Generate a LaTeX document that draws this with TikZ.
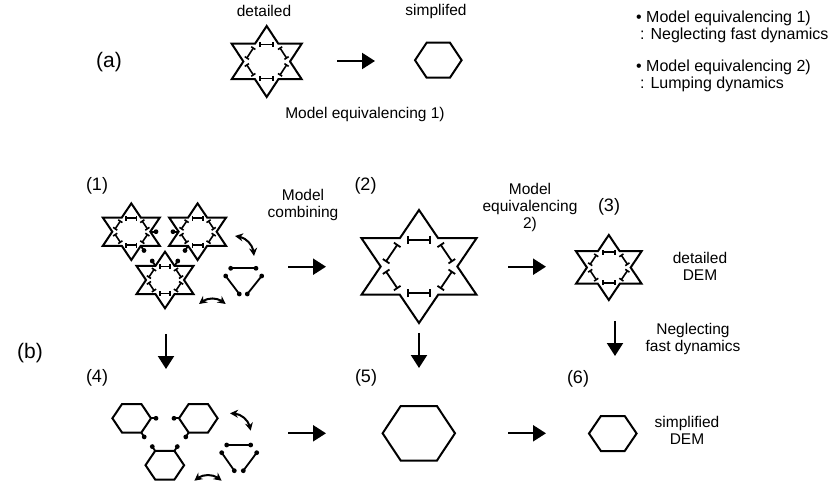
\documentclass[tikz,border=0pt]{standalone}
\usepackage{fontspec}
\setmainfont{Liberation Sans}
\usetikzlibrary{arrows.meta,bending}
\tikzset{
 starline/.style={line width=2pt, line join=miter},
 segL/.style={line width=1.8pt, {Bar[width=8pt]}-{Bar[width=8pt]}},
 segS/.style={line width=1.6pt, {Bar[width=5pt]}-{Bar[width=5pt]}},
 hexline/.style={line width=2pt, line join=miter},
 bigarrow/.style={line width=2.2pt, -{Triangle[length=13pt,width=16pt]}},
 curvarrow/.style={line width=2pt, {Stealth[length=8pt,width=8pt]}-{Stealth[length=8pt,width=8pt]}},
 dotseg/.style={line width=1.8pt},
 txt/.style={font=\fontsize{15.5}{17}\selectfont, align=center, inner sep=0pt},
 lst/.style={font=\fontsize{16}{17}\selectfont, inner sep=0pt, anchor=west},
 lbl/.style={font=\fontsize{18}{20}\selectfont, inner sep=0pt},
 part/.style={font=\fontsize{21}{24}\selectfont, inner sep=0pt},
}
\newcommand\mystar[5]{%
 \begin{scope}[shift={(#1,#2)},xscale=#3,yscale=#4]
  \draw[starline] (0,-1) -- (1/3,-1/2) -- (1,-1/2) -- (2/3,0) -- (1,1/2) -- (1/3,1/2) -- (0,1) -- (-1/3,1/2) -- (-1,1/2) -- (-2/3,0) -- (-1,-1/2) -- (-1/3,-1/2) -- cycle;
  \draw[#5] (-0.21,-0.475) -- (0.21,-0.475);
  \draw[#5] (0.37,-0.395) -- (0.58,-0.08);
  \draw[#5] (0.58,0.08) -- (0.37,0.395);
  \draw[#5] (0.21,0.475) -- (-0.21,0.475);
  \draw[#5] (-0.37,0.395) -- (-0.58,0.08);
  \draw[#5] (-0.58,-0.08) -- (-0.37,-0.395);
 \end{scope}}
\newcommand\myhex[4]{\draw[hexline,shift={(#1,#2)},xscale=#3,yscale=#4] (-1,0) -- (-0.5,-1) -- (0.5,-1) -- (1,0) -- (0.5,1) -- (-0.5,1) -- cycle;}
\newcommand\mydot[4]{\draw[dotseg] (#1,#2) -- (#3,#4); \fill (#3,#4) circle (2.4pt);}
\newcommand\mybell[4]{\draw[dotseg] (#1,#2) -- (#3,#4); \fill (#1,#2) circle (2.4pt); \fill (#3,#4) circle (2.4pt);}
\begin{document}
\begin{tikzpicture}[x=1pt,y=-1pt]
\useasboundingbox (0,0) rectangle (836,489);
% ---------- (a)
\node[part] (la) at (109,62) {(a)};
\node[txt] (tdet) at (264,11) {detailed};
\node[txt] (tsim) at (436,11) {simplifed};
\node[txt] (tme1) at (365,114) {Model equivalencing 1)};
\mystar{266.7}{61.5}{35}{35.5}{segS}
\myhex{438.3}{60.2}{23.3}{17.5}
\coordinate (a1) at (337,61);
\coordinate (a2) at (375,61);
\draw[bigarrow] (a1) -- (a2);
\node[lst] (l1) at (636,18) {• Model equivalencing 1)};
\node[lst] (l2) at (640,35) {: Neglecting fast dynamics};
\node[lst] (l3) at (636,67) {• Model equivalencing 2)};
\node[lst] (l4) at (640,84) {: Lumping dynamics};
% ---------- (b)
\node[part] (lb) at (30,353) {(b)};
\node[lbl] (n1) at (97,186) {(1)};
\node[lbl] (n2) at (365.5,186) {(2)};
\node[lbl] (n3) at (609,207) {(3)};
\node[lbl] (n4) at (97,378) {(4)};
\node[lbl] (n5) at (366,378) {(5)};
\node[lbl] (n6) at (578,379) {(6)};
% group (1)
\mystar{131.3}{231.7}{28.5}{28.3}{segS}
\mystar{197.6}{231.7}{28.5}{28.3}{segS}
\mystar{165}{280}{28.5}{28.3}{segS}
\mydot{150.3}{231.7}{156}{231.7}
\mydot{140.8}{245.85}{144}{250.5}
\mydot{178.6}{231.7}{173}{231.7}
\mydot{188.1}{245.85}{185}{250.5}
\mydot{155.5}{265.85}{152.2}{261}
\mydot{174.5}{265.85}{177.8}{261}
\mybell{230.7}{268.3}{256}{268.3}
\mybell{225.7}{276}{239.3}{294}
\mybell{261.7}{276}{247.3}{294}
\coordinate (c1a) at (235,236);
\coordinate (c1b) at (254,256);
\draw[curvarrow] (c1a) to[bend left=45] (c1b);
\coordinate (c2a) at (199,304);
\coordinate (c2b) at (225.7,304);
\draw[curvarrow] (c2a) to[bend left=45] (c2b);
% group (2), (3)
\mystar{419}{266.5}{57.5}{56.5}{segL}
\mystar{608.8}{267.5}{32.8}{32.5}{segS}
% group (4)
\myhex{131.7}{418.3}{19.3}{14.3}
\myhex{198.3}{418.3}{19.3}{14.3}
\myhex{164.8}{465.2}{19.3}{14.3}
\mydot{151}{418.3}{156}{418.3}
\mydot{141.35}{432.6}{144.2}{436.9}
\mydot{179}{418.3}{174}{418.3}
\mydot{188.65}{432.6}{185.8}{436.9}
\mydot{155.15}{450.9}{152.3}{446.6}
\mydot{174.45}{450.9}{177.3}{446.6}
\mybell{226.7}{445}{250.7}{445}
\mybell{221.7}{452.7}{234.3}{470.7}
\mybell{256.7}{452.7}{243.3}{470.7}
\coordinate (c3a) at (230,413.3);
\coordinate (c3b) at (250.7,430.7);
\draw[curvarrow] (c3a) to[bend left=45] (c3b);
\coordinate (c4a) at (194.3,480.7);
\coordinate (c4b) at (221.7,480.7);
\draw[curvarrow] (c4a) to[bend left=45] (c4b);
% (5), (6)
\myhex{418.8}{433.3}{36.2}{27.3}
\myhex{612.8}{433.5}{23.8}{17.5}
% labels
\node[txt] (tmc) at (303,205) {Model\\combining};
\node[txt] (tme2) at (530,207) {Model\\equivalencing\\2)};
\node[txt] (tdd) at (700,266) {detailed\\DEM};
\node[txt] (tnf) at (693,338.5) {Neglecting\\fast dynamics};
\node[txt] (tsd) at (687,430) {simplified\\DEM};
% big arrows
\coordinate (b12s) at (288,266.7); \coordinate (b12e) at (326,266.7);
\coordinate (b23s) at (508,266.7); \coordinate (b23e) at (546,266.7);
\coordinate (b14s) at (166,334); \coordinate (b14e) at (166,369);
\coordinate (b25s) at (419,333); \coordinate (b25e) at (419,368);
\coordinate (b36s) at (615,321); \coordinate (b36e) at (615,356);
\coordinate (b45s) at (288,433.3); \coordinate (b45e) at (326,433.3);
\coordinate (b56s) at (508,433.3); \coordinate (b56e) at (546,433.3);
\draw[bigarrow] (b12s) -- (b12e);
\draw[bigarrow] (b23s) -- (b23e);
\draw[bigarrow] (b14s) -- (b14e);
\draw[bigarrow] (b25s) -- (b25e);
\draw[bigarrow] (b36s) -- (b36e);
\draw[bigarrow] (b45s) -- (b45e);
\draw[bigarrow] (b56s) -- (b56e);
\end{tikzpicture}
\end{document}
